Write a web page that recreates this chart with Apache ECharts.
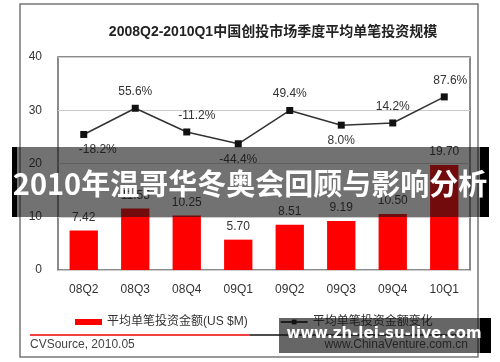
<!DOCTYPE html>
<html><head><meta charset="utf-8">
<script src="https://cdn.jsdelivr.net/npm/echarts@6/dist/echarts.min.js"></script>
<style>html,body{margin:0;padding:0;background:#fff}#c{width:500px;height:362px}</style>
</head><body><div id="c"></div>
<script>
const categories = ['08Q2','08Q3','08Q4','09Q1','09Q2','09Q3','09Q4','10Q1'];
const avgAmount = [7.42, 11.55, 10.25, 5.70, 8.51, 9.19, 10.50, 19.70];
const changePct = [-18.2, 55.6, -11.2, -44.4, 49.4, 8.0, 14.2, 87.6];
const labelBelow = [true, false, false, true, false, true, false, false];
const labelShiftX = [14, 0, 10, 0, 0, 0, 0, 6];
const yTicks = [0, 10, 20, 30, 40];

const FONT = '"Liberation Sans", Arial, "Noto Sans CJK SC", sans-serif';
const chart = echarts.init(document.getElementById('c'), null, {renderer: 'canvas'});

const lineData = changePct.map((v, i) => ({
  value: v,
  label: {
    position: labelBelow[i] ? 'bottom' : 'top',
    offset: [labelShiftX[i], 0],
    distance: labelBelow[i] ? 6 : 7
  }
}));

chart.setOption({
  animation: false,
  textStyle: {fontFamily: FONT},
  title: {
    text: '2008Q2-2010Q1中国创投市场季度平均单笔投资规模',
    left: 268, top: 20, textAlign: 'center',
    textStyle: {fontSize: 14, fontWeight: 'bold', color: '#222', fontFamily: FONT}
  },
  legend: {
    left: 70, top: 311, itemGap: 32, itemWidth: 27, itemHeight: 6,
    textStyle: {fontSize: 12, color: '#333', fontFamily: FONT},
    data: [
      {name: '平均单笔投资金额(US $M)', icon: 'rect'},
      {name: '平均单笔投资金额变化'}
    ]
  },
  grid: {left: 58, right: 30, top: 57, bottom: 92, show: true, borderColor: '#666', borderWidth: 1.5, backgroundColor: '#fff'},
  xAxis: {
    type: 'category', data: categories,
    axisLine: {show: false}, axisTick: {show: false},
    axisLabel: {color: '#333', fontSize: 12, margin: 14, fontFamily: FONT}
  },
  yAxis: [{
    type: 'value', min: yTicks[0], max: yTicks[yTicks.length - 1], interval: 10,
    axisLine: {show: false}, axisTick: {show: false},
    axisLabel: {color: '#333', fontSize: 12, margin: 16, fontFamily: FONT},
    splitLine: {lineStyle: {color: '#ccc', width: 1}}
  }, {
    type: 'value', min: -400, max: 200, show: false,
    splitLine: {show: false}
  }],
  series: [{
    name: '平均单笔投资金额(US $M)', type: 'bar', data: avgAmount,
    barWidth: '55%', itemStyle: {color: '#ff0000'},
    label: {show: true, position: 'top', distance: 7, color: '#333', fontSize: 12,
      formatter: p => p.value.toFixed(2), fontFamily: FONT}
  }, {
    name: '平均单笔投资金额变化', type: 'line', yAxisIndex: 1, data: lineData,
    symbol: 'rect', symbolSize: 7,
    lineStyle: {color: '#333', width: 1.5},
    itemStyle: {color: '#111'},
    label: {show: true, color: '#333', fontSize: 12,
      formatter: p => p.value.toFixed(1) + '%', fontFamily: FONT}
  }],
  graphic: [
    {type: 'rect', shape: {x: 20, y: 4, width: 458, height: 353}, style: {fill: 'none', stroke: '#777', lineWidth: 1.5}, z: -1},
    {type: 'line', shape: {x1: 30, y1: 335, x2: 250, y2: 335}, style: {stroke: '#e00', lineWidth: 1.5}},
    {type: 'line', shape: {x1: 250, y1: 335, x2: 470, y2: 335}, style: {stroke: '#111', lineWidth: 1.5}},
    {type: 'text', x: 30, y: 339, style: {text: 'CVSource, 2010.05', fontSize: 12, fill: '#444', fontFamily: FONT}},
    {type: 'text', x: 468, y: 339, style: {text: 'www.ChinaVenture.com.cn', fontSize: 12, fill: '#444', align: 'right', fontFamily: FONT}},
    {type: 'rect', shape: {x: 13, y: 147, width: 476, height: 70}, style: {fill: 'rgba(20,20,20,0.6)'}, z: 100},
    {type: 'rect', shape: {x: 12, y: 147, width: 5, height: 70}, style: {fill: '#000'}, z: 101},
    {type: 'rect', shape: {x: 480, y: 147, width: 9, height: 70}, style: {fill: '#000'}, z: 101},
    {type: 'text', x: 250, y: 184, style: {text: '2010年温哥华冬奥会回顾与影响分析', fontSize: 29, fontWeight: 'bold', fill: '#fff', align: 'center', verticalAlign: 'middle', fontFamily: '"Noto Sans CJK SC", sans-serif'}, z: 102},
    {type: 'rect', shape: {x: 279, y: 318, width: 202, height: 35}, style: {fill: 'rgba(20,20,20,0.65)'}, z: 100},
    {type: 'rect', shape: {x: 480, y: 318, width: 11, height: 35}, style: {fill: '#000'}, z: 101},
    {type: 'text', x: 384, y: 334, style: {text: 'www.zh-lei-su-live.com', fontSize: 15, fontWeight: 'bold', fill: '#fff', align: 'center', verticalAlign: 'middle', fontFamily: '"DejaVu Sans", sans-serif'}, z: 102}
  ]
});
</script></body></html>
